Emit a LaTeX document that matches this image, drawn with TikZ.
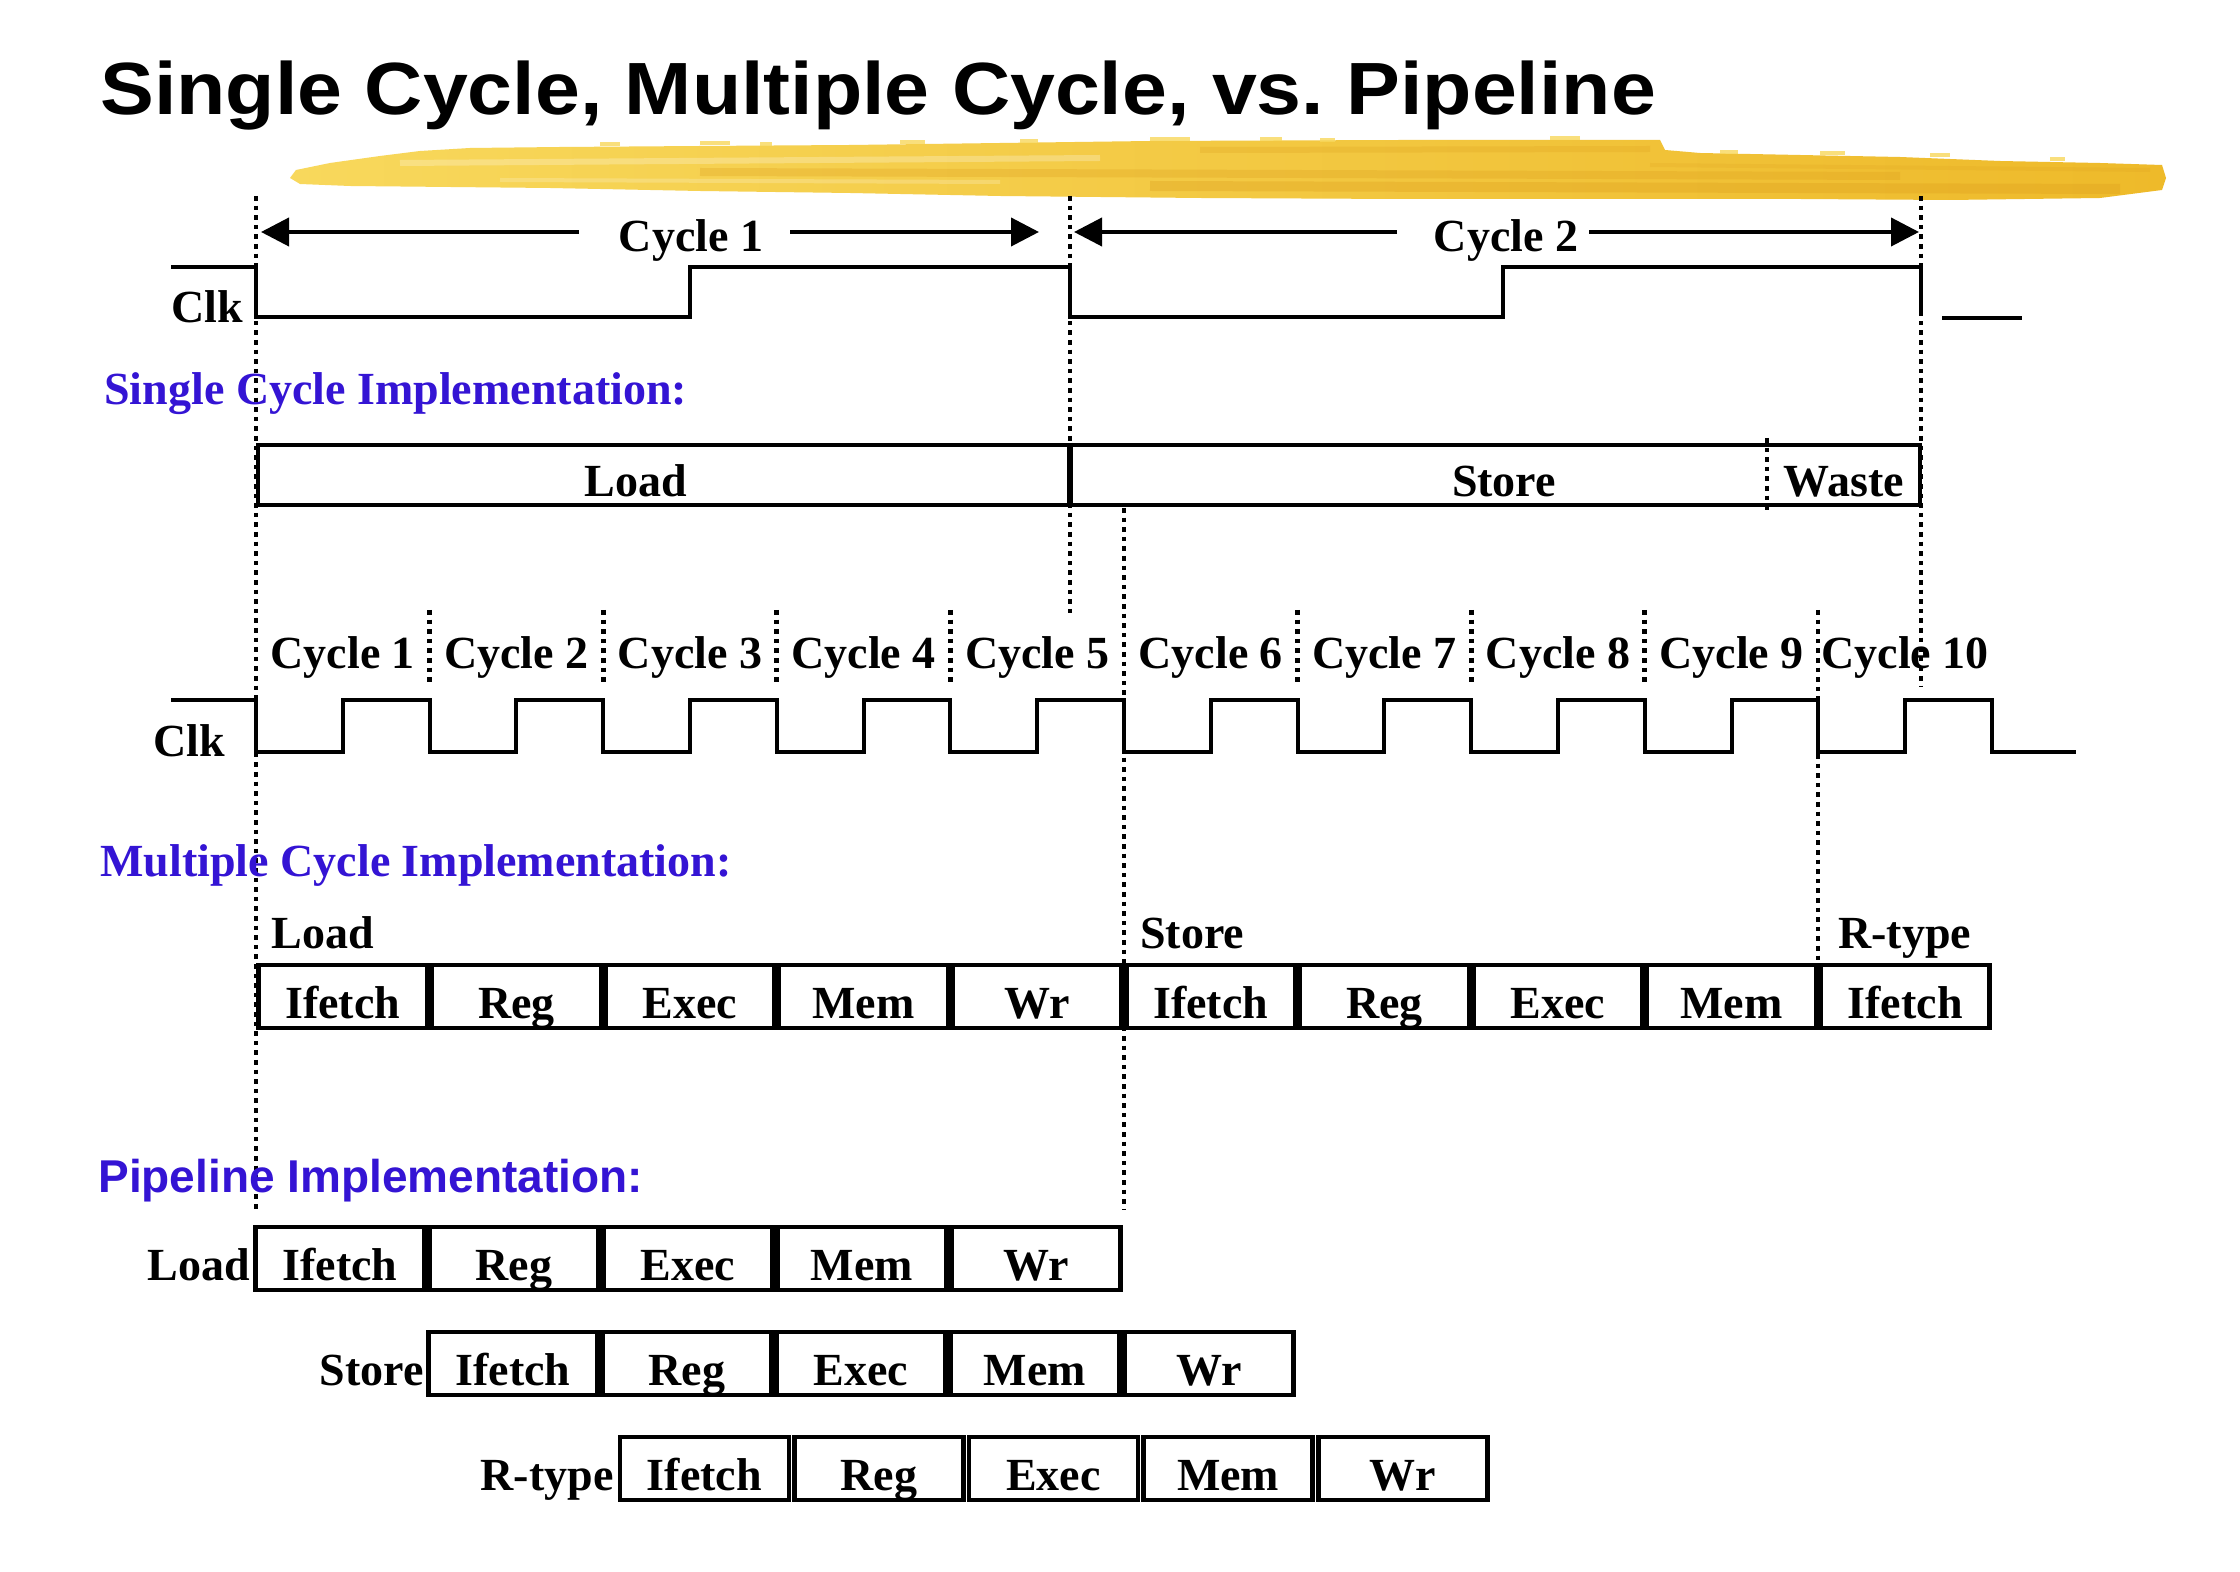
\documentclass[tikz,border=0pt]{standalone}
\usepackage{fontspec}
\setmainfont{Liberation Serif}
\newfontfamily\sansfam{Liberation Sans}
\usetikzlibrary{arrows.meta}
\definecolor{implblue}{RGB}{52,20,212}
\definecolor{brushA}{RGB}{248,216,92}
\definecolor{brushB}{RGB}{238,186,42}
\definecolor{brushC}{RGB}{222,160,30}
\begin{document}
\begin{tikzpicture}[x=0.5pt,y=-0.5pt,
  txt/.style={font=\fontsize{23}{27}\selectfont\bfseries, inner sep=0pt},
  impl/.style={txt, text=implblue, anchor=base west},
  wave/.style={line width=2pt, line join=miter},
  dots/.style={line width=2.4pt, dash pattern=on 2.3pt off 2.5pt},
  arr/.style={line width=2pt, -{Triangle[length=14pt,width=14pt]}},
  stagebox/.style={txt, draw, line width=2.3pt, anchor=base, text height=21.5pt, text depth=0pt,
    inner ysep=5pt, inner xsep=0pt, outer sep=0pt, minimum width=84.5pt},
  streak/.style={line width=#1, line cap=butt},
]
\fill[white] (0,0) rectangle (2240,1572);
\useasboundingbox (0,0) rectangle (2240,1572);

% brush stroke
\shade[left color=brushA, right color=brushB]
  (290,178) -- (296,170) -- (330,163) -- (380,156) -- (420,151) -- (470,148) -- (560,147)
  -- (700,146) -- (850,145) -- (1000,143) -- (1150,141) -- (1400,140) -- (1660,140)
  -- (1665,150) -- (1700,153) -- (1800,155) -- (1900,157) -- (2000,161) -- (2100,163)
  -- (2162,165) -- (2166,178) -- (2162,190) -- (2100,198) -- (1950,200) -- (1800,199)
  -- (1600,199) -- (1400,199) -- (1200,198) -- (1000,196) -- (850,193) -- (700,191)
  -- (550,188) -- (450,187) -- (350,186) -- (300,184) -- cycle;
\draw[brushC, opacity=0.30, streak=4pt] (700,172) -- (1900,176);
\draw[brushC, opacity=0.35, streak=5pt] (1150,186) -- (2120,189);
\draw[brushC, opacity=0.25, streak=3pt] (1200,150) -- (1650,149);
\draw[brushC, opacity=0.2, streak=2pt] (1650,165) -- (2150,170);
\draw[white, opacity=0.25, streak=3pt] (400,163) -- (1100,158);
\draw[white, opacity=0.2, streak=2pt] (500,180) -- (1000,182);
\foreach \sx/\sy/\sw in {600/142/20,700/141/30,760/142/12,900/140/25,1020/139/18,1150/137/40,1260/137/22,1320/138/15,1550/136/30,1720/150/18,1820/151/25,1930/153/20,2050/157/15} {
  \fill[brushA, opacity=0.8] (\sx,\sy) rectangle ++(\sw,4);
}

% title
\node[anchor=base west, inner sep=0pt, font=\sansfam\bfseries\fontsize{37}{40}\selectfont] (title)
  at (100,115) {\scalebox{1.09}[1]{Single Cycle, Multiple Cycle, vs.\ Pipeline}};

% long dotted lines
\draw[dots] (256,196) -- (256,1210);
\draw[dots] (1070,196) -- (1070,617);
\draw[dots] (1921,196) -- (1921,687);
\draw[dots] (1124,508) -- (1124,1210);
\draw[dots] (1818,610) -- (1818,960);
\foreach \k in {1,2,3,4,6,7,8} {
  \draw[dots] ({256+173.6*\k},610) -- ({256+173.6*\k},685);
}

% ---- top clock ----
\node[txt, anchor=base] (cyc1) at (691,252) {Cycle 1};
\node[txt, anchor=base] (cyc2) at (1506,252) {Cycle 2};
\coordinate (a1l) at (261,232);  \coordinate (a1m) at (579,232);
\coordinate (a1n) at (790,232);  \coordinate (a1r) at (1039,232);
\coordinate (a2l) at (1074,232); \coordinate (a2m) at (1397,232);
\coordinate (a2n) at (1589,232); \coordinate (a2r) at (1919,232);
\draw[arr] (a1m) -- (a1l);
\draw[arr] (a1n) -- (a1r);
\draw[arr] (a2m) -- (a2l);
\draw[arr] (a2n) -- (a2r);
\node[txt, anchor=base west] (clk1) at (171,323) {Clk};
\draw[wave] (171,267) -- (256,267) -- (256,317) -- (690,317) -- (690,267) -- (1070,267)
  -- (1070,317) -- (1503,317) -- (1503,267) -- (1921,267) -- (1921,313);
\draw[wave] (1942,318) -- (2022,318);

% ---- single cycle ----
\node[impl] (scimpl) at (104,405) {Single Cycle Implementation:};
\node[draw, line width=2.2pt, inner sep=0pt, outer sep=0pt, anchor=north west,
  minimum width=831pt, minimum height=30pt] (scbox) at (258,445) {};
\draw[line width=3pt] (1070,443) -- (1070,507);
\draw[dots] (1767,438) -- (1767,510);
\node[txt, anchor=base] (scload) at (636,497) {Load};
\node[txt, anchor=base] (scstore) at (1504,497) {Store};
\node[txt, anchor=base] (scwaste) at (1844,497) {Waste};

% ---- multiple cycle clock ----
\foreach \k in {1,...,10} {
  \node[txt, anchor=base] (mcyc\k) at ({256+173.6*(\k-1)+86.8},669) {Cycle \k};
}
\node[txt, anchor=base west] (clk2) at (153,757) {Clk};
\draw[wave] (171,700) \foreach \k in {0,...,9} {
  -- ({256+173.6*\k},700) -- ({256+173.6*\k},752) -- ({342.8+173.6*\k},752) -- ({342.8+173.6*\k},700)
  } -- (1992,700) -- (1992,752) -- (2076,752);

% ---- multiple cycle implementation ----
\node[impl] (mcimpl) at (100,877) {Multiple Cycle Implementation:};
\node[txt, anchor=base west] (mload) at (271,948) {Load};
\node[txt, anchor=base west] (mstore) at (1140,948) {Store};
\node[txt, anchor=base west] (mrtype) at (1838,948) {R-type};
\foreach \t [count=\i from 0] in {Ifetch,Reg,Exec,Mem,Wr,Ifetch,Reg,Exec,Mem,Ifetch} {
  \node[stagebox] (m\i) at ({256+173.6*\i+86.8},1018) {\t};
}

% ---- pipeline ----
\node[impl, font=\sansfam\bfseries\fontsize{23}{27}\selectfont] (plimpl) at (98,1192) {Pipeline Implementation:};
\node[txt, anchor=base east] (pload) at (250,1280) {Load};
\node[txt, anchor=base east] (pstore) at (424,1385) {Store};
\node[txt, anchor=base east] (prtype) at (614,1490) {R-type};
\foreach \t [count=\i from 0] in {Ifetch,Reg,Exec,Mem,Wr} {
  \node[stagebox] (pa\i) at ({253+174*\i+87},1280) {\t};
  \node[stagebox] (pb\i) at ({426+174*\i+87},1385) {\t};
  \node[stagebox] (pc\i) at ({617+174.6*\i+87.3},1490) {\t};
}
\end{tikzpicture}
\end{document}
